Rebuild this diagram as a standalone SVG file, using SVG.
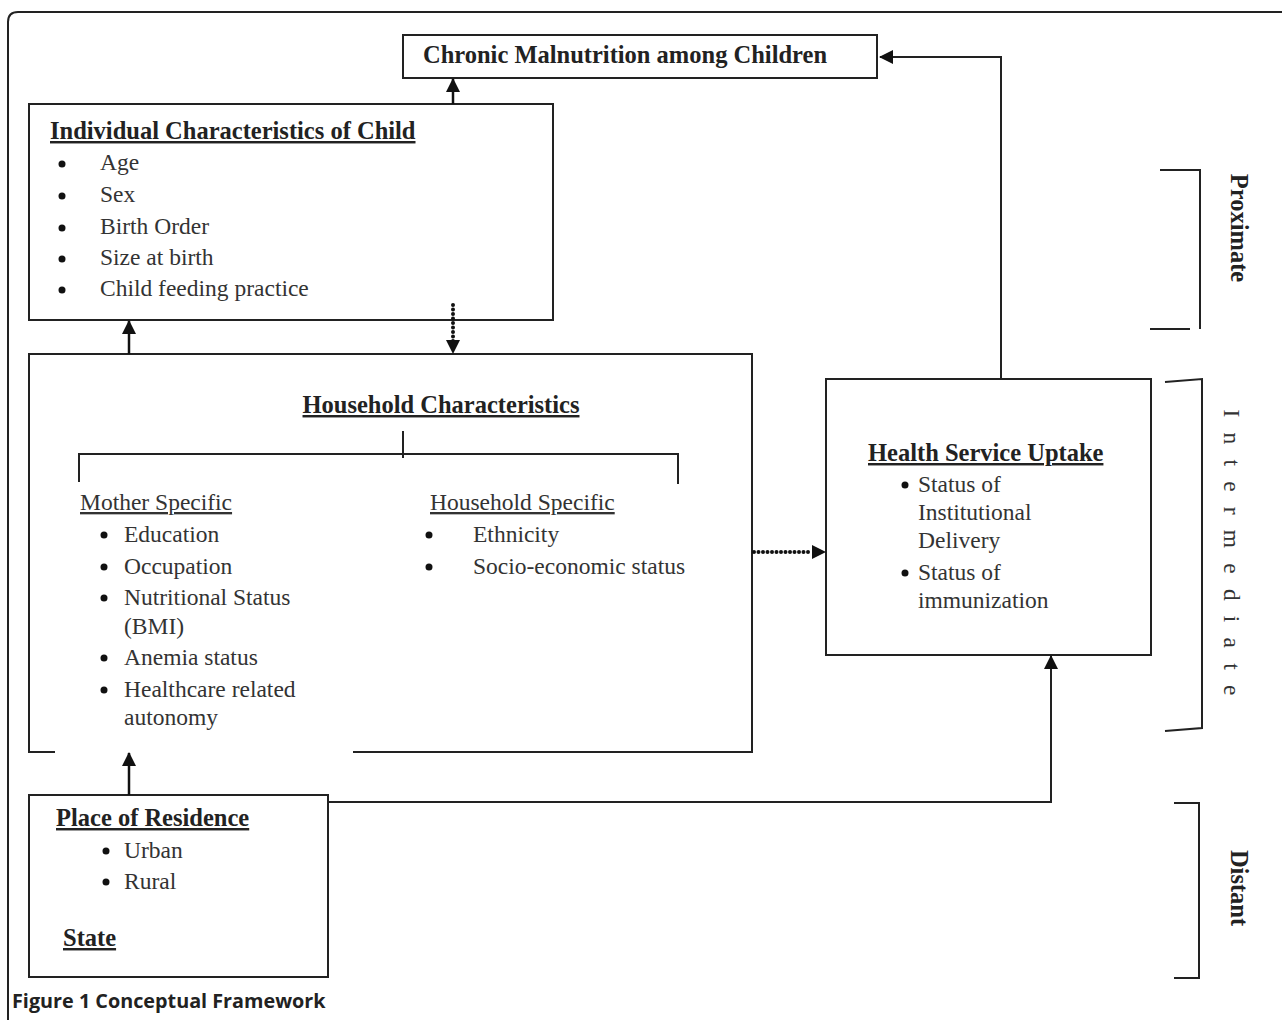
<svg xmlns="http://www.w3.org/2000/svg" width="1282" height="1020" viewBox="0 0 1282 1020">
<style>
.box{fill:#fff;stroke:#222;stroke-width:2}
.t{font-family:"Liberation Serif",serif;font-size:23.5px;fill:#333}
.b{font-family:"Liberation Serif",serif;font-size:24.5px;font-weight:bold;fill:#222}
.u{text-decoration:underline}
.ln{fill:none;stroke:#222;stroke-width:2}
.ar{fill:none;stroke:#111;stroke-width:2.5}
.dot{fill:none;stroke:#111;stroke-width:4;stroke-linecap:round;stroke-dasharray:0 4.5}
.bul{fill:#111}
.cap{font-family:"Open Sans","DejaVu Sans",sans-serif;font-size:19.8px;font-weight:bold;fill:#222}
</style>
<defs>
<marker id="ah" viewBox="0 0 14 14" refX="13" refY="7" markerWidth="14" markerHeight="14" markerUnits="userSpaceOnUse" orient="auto">
<path d="M0,0 L14,7 L0,14 Z" fill="#111"/>
</marker>
</defs>
<rect width="1282" height="1020" fill="#fff"/>
<path class="ln" d="M8,1020 V22 Q8,12 18,12 H1282"/>

<g id="chronic">
<rect class="box" x="403" y="35" width="474" height="43"/>
<text class="b" x="625" y="63" text-anchor="middle">Chronic Malnutrition among Children</text>
</g>

<g id="individual">
<rect class="box" x="29" y="104" width="524" height="216"/>
<text class="b u" x="50" y="139">Individual Characteristics of Child</text>
<circle class="bul" cx="62" cy="164" r="3.5"/><text class="t" x="100" y="170">Age</text>
<circle class="bul" cx="62" cy="196" r="3.5"/><text class="t" x="100" y="202">Sex</text>
<circle class="bul" cx="62" cy="228" r="3.5"/><text class="t" x="100" y="234">Birth Order</text>
<circle class="bul" cx="62" cy="259" r="3.5"/><text class="t" x="100" y="265">Size at birth</text>
<circle class="bul" cx="62" cy="290" r="3.5"/><text class="t" x="100" y="296">Child feeding practice</text>
</g>

<g id="household">
<path class="ln" d="M55,752 H29 V354 H752 V752 H353"/>
<text class="b u" x="441" y="413" text-anchor="middle">Household Characteristics</text>
<path class="ln" d="M403,431 V458 M79,482 V454 H678 V484"/>
<text class="t u" x="80" y="510">Mother Specific</text>
<circle class="bul" cx="104" cy="535" r="3.5"/><text class="t" x="124" y="542">Education</text>
<circle class="bul" cx="104" cy="567" r="3.5"/><text class="t" x="124" y="574">Occupation</text>
<circle class="bul" cx="104" cy="598" r="3.5"/><text class="t" x="124" y="605">Nutritional Status</text>
<text class="t" x="124" y="634">(BMI)</text>
<circle class="bul" cx="104" cy="658" r="3.5"/><text class="t" x="124" y="665">Anemia status</text>
<circle class="bul" cx="104" cy="690" r="3.5"/><text class="t" x="124" y="697">Healthcare related</text>
<text class="t" x="124" y="725">autonomy</text>
<text class="t u" x="430" y="510">Household Specific</text>
<circle class="bul" cx="429" cy="535" r="3.5"/><text class="t" x="473" y="542">Ethnicity</text>
<circle class="bul" cx="429" cy="567" r="3.5"/><text class="t" x="473" y="574">Socio-economic status</text>
</g>

<g id="health">
<rect class="box" x="826" y="379" width="325" height="276"/>
<text class="b u" x="868" y="461">Health Service Uptake</text>
<circle class="bul" cx="905" cy="485" r="3.5"/><text class="t" x="918" y="492">Status of</text>
<text class="t" x="918" y="520">Institutional</text>
<text class="t" x="918" y="548">Delivery</text>
<circle class="bul" cx="905" cy="573" r="3.5"/><text class="t" x="918" y="580">Status of</text>
<text class="t" x="918" y="608">immunization</text>
</g>

<g id="residence">
<rect class="box" x="29" y="795" width="299" height="182"/>
<text class="b u" x="56" y="826">Place of Residence</text>
<circle class="bul" cx="106" cy="851" r="3.5"/><text class="t" x="124" y="858">Urban</text>
<circle class="bul" cx="106" cy="882" r="3.5"/><text class="t" x="124" y="889">Rural</text>
<text class="b u" x="63" y="946">State</text>
</g>

<g id="connectors">
<line class="ar" x1="453" y1="104" x2="453" y2="79" marker-end="url(#ah)"/>
<line class="ar" x1="129" y1="354" x2="129" y2="321" marker-end="url(#ah)"/>
<line class="dot" x1="453" y1="305" x2="453" y2="342"/>
<path d="M446,340 L460,340 L453,354 Z" fill="#111"/>
<line class="dot" x1="754" y1="552" x2="812" y2="552"/>
<path d="M812,545 L826,552 L812,559 Z" fill="#111"/>
<path class="ln" d="M1001,379 V57 H880" marker-end="url(#ah)"/>
<line class="ar" x1="129" y1="795" x2="129" y2="753" marker-end="url(#ah)"/>
<path class="ln" d="M328,802 H1051 V656" marker-end="url(#ah)"/>
</g>

<g id="brackets">
<path class="ln" d="M1160,170 H1200 V329 M1150,329 H1190"/>
<text class="b" transform="translate(1231,228) rotate(90)" text-anchor="middle">Proximate</text>
<path class="ln" d="M1165,382 L1202,379 V728 L1165,731"/>
<text class="t" transform="translate(1224,560) rotate(90)" text-anchor="middle" letter-spacing="15.2">Intermediate</text>
<path class="ln" d="M1174,803 H1199 V978 H1174"/>
<text class="b" transform="translate(1231,888) rotate(90)" text-anchor="middle">Distant</text>
</g>

<text class="cap" x="12" y="1008">Figure 1 Conceptual Framework</text>
</svg>
